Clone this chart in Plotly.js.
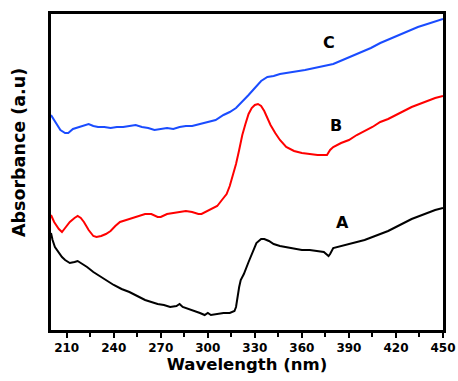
<!DOCTYPE html>
<html><head><meta charset="utf-8">
<script src="https://cdn.plot.ly/plotly-3.0.1.min.js"></script>
<style>html,body{margin:0;padding:0;background:#fff}#chart{width:458px;height:381px}</style>
</head><body><div id="chart"></div>
<script>
// Wavelength (nm) and absorbance (arbitrary units)
const xA = [200,201,202.5,205,207,209,212,215,217,220,223,227,231,235,240,245,250,255,260,264,268,272,276,280,282,284,288,292,295,298,300,302,306,310,314,316,317,318,319,320,321,323,326,329,331,334,336,339,342,346,350,355,360,365,370,374,377,378,380,385,390,395,400,405,410,415,420,425,430,435,440,445,450];
const yA = [97,90,83,77,73,70,67,68,69,66,63,58,54,50,45,41,38,34,30,28,26,25,23,24,26,23,21,19,17,15,17,15,16,17,17,18,19,23,34,43,50,56,68,80,87,91,91,89,86,84,83,81,80,80,79,78,74,76,82,84,86,88,90,93,96,99,103,107,111,114,117,120,122];
const xB = [200,202,205,207,209,212,215,217,219,221,224,227,229,232,235,238,241,244,248,252,256,260,264,268,270,274,278,282,286,290,294,296,300,303,306,309,312,314,316,318,320,322,324,326,328,330,332,334,336,338,340,343,346,350,355,360,365,370,374,376,378,380,385,390,395,400,405,410,415,420,425,430,435,440,445,450];
const yB = [115,108,101,98,102,108,112,114,112,108,100,94,93,94,96,99,104,108,110,112,114,116,116,113,113,116,117,118,119,118,116,116,119,121,124,130,136,144,154,166,180,195,206,216,222,225,226,224,219,212,205,197,190,183,179,177,176,175,175,175,180,183,187,190,195,199,203,208,211,215,219,223,226,229,232,234];
const xC = [200,203,206,209,211,214,218,221,224,227,230,234,238,242,246,250,254,258,262,266,270,274,278,282,286,290,295,300,305,310,314,318,322,326,330,334,338,342,346,350,356,362,368,374,380,386,392,398,404,410,416,422,428,434,440,446,450];
const yC = [215,207,200,197,197,201,203,204,206,204,203,203,202,203,203,204,205,203,202,200,201,202,201,203,204,204,206,208,210,215,218,222,228,235,242,249,253,254,256,257,258,260,262,264,266,270,274,278,282,287,291,295,299,303,306,309,311];
const xTicks = [210,240,270,300,330,360,390,420,450];
const labels = ["A","B","C"];
const labelX = [385.7,381.9,377.4];
const labelY = [108,205,288];

const FONT = 'DejaVu Sans, Verdana, sans-serif';
const traces = [
  {x:xA,y:yA,mode:'lines',line:{color:'#000000',width:2},name:'A'},
  {x:xB,y:yB,mode:'lines',line:{color:'#ff0000',width:2},name:'B'},
  {x:xC,y:yC,mode:'lines',line:{color:'#1a4cff',width:2},name:'C'}
];
const annotations = labels.map((t,i)=>({x:labelX[i],y:labelY[i],text:t,showarrow:false,
  font:{family:FONT,size:16,color:'#000',weight:'bold'}}));
annotations.push({xref:'paper',yref:'paper',x:-0.0816,y:0.56,xanchor:'center',yanchor:'middle',
  textangle:-90,showarrow:false,text:'Absorbance (a.u)',font:{family:FONT,size:17.5,color:'#000',weight:'bold'}});
const layout = {
  width:458,height:381,
  margin:{l:51,r:15,t:14,b:51},
  paper_bgcolor:'#fff',plot_bgcolor:'#fff',
  showlegend:false,
  font:{family:FONT,color:'#000'},
  xaxis:{range:[200,450],tickvals:xTicks,ticks:'outside',ticklen:5,tickwidth:2,tickcolor:'#000',
    minor:{dtick:15,tick0:195,ticks:'outside',ticklen:4,tickwidth:2,tickcolor:'#000'},
    showline:true,linewidth:3,linecolor:'#000',mirror:true,showgrid:false,zeroline:false,
    tickfont:{family:FONT,size:12,weight:'bold'},
    title:{text:'Wavelength (nm)',font:{family:FONT,size:16.5,weight:'bold'},standoff:5}},
  yaxis:{range:[0,316],showticklabels:false,ticks:'',showline:true,linewidth:3,linecolor:'#000',mirror:true,
    showgrid:false,zeroline:false},
  annotations:annotations
};
Plotly.newPlot('chart',traces,layout,{displayModeBar:false,staticPlot:true});
</script></body></html>
